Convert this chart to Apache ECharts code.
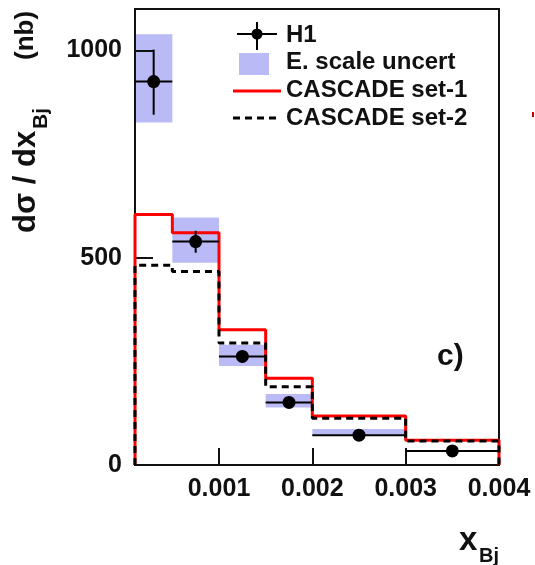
<!DOCTYPE html>
<html>
<head>
<meta charset="utf-8">
<script src="https://cdn.jsdelivr.net/npm/echarts@6/dist/echarts.min.js"></script>
<style>
    html, body { margin: 0; padding: 0; background: #fff; }
    #main_chart { width: 535px; height: 565px; }
</style>
</head>
<body>
<div id="main_chart"></div>
<script>
// bin edges in x_Bj
const binEdges = [0.0001, 0.0005, 0.001, 0.0015, 0.002, 0.003, 0.004];
// H1 data points (nb) with stat error range
const h1Values = [925, 539, 262, 151, 72, 34];
const h1ErrLow = [845, 512, 252, 143, 66, 29];
const h1ErrHigh = [1002, 565, 272, 159, 78, 39];
// energy scale uncertainty band
const scaleLow = [826, 488, 239, 139, 70, null];
const scaleHigh = [1039, 597, 290, 171, 87, null];
// CASCADE predictions
const cascade1 = [604, 560, 326, 209, 118, 60];
const cascade2 = [482, 467, 294, 189, 113, 58];
// axis ticks
const xTicks = [0.001, 0.002, 0.003, 0.004];
const yTicks = [0, 500, 1000];

const FONT = 'Liberation Sans';

let myChart = echarts.init(document.getElementById('main_chart'));

// build step line from bin contents: drop to zero at both ends
function stepPoints(values) {
    let pts = [[binEdges[0], 0]];
    values.forEach((v, i) => {
        pts.push([binEdges[i], v]);
        pts.push([binEdges[i + 1], v]);
    });
    pts.push([binEdges[binEdges.length - 1], 0]);
    return pts;
}

let h1Data = h1Values.map((v, i) => [binEdges[i], binEdges[i + 1], v, h1ErrLow[i], h1ErrHigh[i]]);
let bandData = [];
scaleLow.forEach((lo, i) => {
    if (lo !== null) bandData.push([binEdges[i], binEdges[i + 1], lo, scaleHigh[i]]);
});

let option = {
    animation: false,
    backgroundColor: '#fff',
    grid: {
        left: 135, right: 36, top: 9, bottom: 100,
        show: true, borderColor: '#111', borderWidth: 2
    },
    xAxis: {
        type: 'value',
        z: 1,
        min: binEdges[0],
        max: binEdges[binEdges.length - 1],
        splitLine: {show: false},
        axisLine: {lineStyle: {color: '#111', width: 2}},
        axisTick: {inside: true, length: 17, customValues: xTicks, lineStyle: {color: '#111', width: 2}},
        axisLabel: {
            customValues: xTicks, margin: 12, color: '#111',
            fontFamily: FONT, fontWeight: 'bold', fontSize: 25,
            formatter: v => v.toFixed(3)
        }
    },
    yAxis: {
        type: 'value',
        z: 1,
        min: 0,
        max: 1100,
        splitLine: {show: false},
        axisLine: {lineStyle: {color: '#111', width: 2}},
        axisTick: {inside: true, length: 18, customValues: yTicks, lineStyle: {color: '#111', width: 2}},
        axisLabel: {
            customValues: yTicks, margin: 13, color: '#111',
            fontFamily: FONT, fontWeight: 'bold', fontSize: 25,
            formatter: v => String(v)
        }
    },
    series: [{
        name: 'E. scale uncert',
        type: 'custom',
        z: 0,
        data: bandData,
        encode: {x: [0, 1], y: [2, 3]},
        renderItem: function (params, api) {
            let a = api.coord([api.value(0), api.value(3)]);
            let b = api.coord([api.value(1), api.value(2)]);
            return {
                type: 'rect',
                shape: {x: a[0], y: a[1], width: b[0] - a[0], height: b[1] - a[1]},
                style: {fill: '#babaf7'}
            };
        }
    }, {
        name: 'CASCADE set-1',
        type: 'line',
        z: 2,
        data: stepPoints(cascade1),
        symbol: 'none',
        lineStyle: {color: '#ff0000', width: 3}
    }, {
        name: 'CASCADE set-2',
        type: 'line',
        z: 3,
        data: stepPoints(cascade2),
        symbol: 'none',
        lineStyle: {color: '#000', width: 3, type: [7, 5]}
    }, {
        name: 'H1',
        type: 'custom',
        z: 4,
        data: h1Data,
        encode: {x: [0, 1], y: [2, 3, 4]},
        renderItem: function (params, api) {
            let xc = (api.value(0) + api.value(1)) / 2;
            let l = api.coord([api.value(0), api.value(2)]);
            let r = api.coord([api.value(1), api.value(2)]);
            let c = api.coord([xc, api.value(2)]);
            let lo = api.coord([xc, api.value(3)]);
            let hi = api.coord([xc, api.value(4)]);
            let st = {stroke: '#000', lineWidth: 2};
            return {
                type: 'group',
                children: [
                    {type: 'line', shape: {x1: l[0], y1: l[1], x2: r[0], y2: r[1]}, style: st},
                    {type: 'line', shape: {x1: lo[0], y1: lo[1], x2: hi[0], y2: hi[1]}, style: st},
                    {type: 'circle', shape: {cx: c[0], cy: c[1], r: 6.5}, style: {fill: '#000'}}
                ]
            };
        }
    }],
    graphic: [
        // legend
        {type: 'line', shape: {x1: 237, y1: 34, x2: 277, y2: 34}, style: {stroke: '#000', lineWidth: 2}},
        {type: 'line', shape: {x1: 257, y1: 22, x2: 257, y2: 50}, style: {stroke: '#000', lineWidth: 2}},
        {type: 'circle', shape: {cx: 257, cy: 34, r: 5.5}, style: {fill: '#000'}},
        {type: 'rect', shape: {x: 239, y: 53, width: 30, height: 22}, style: {fill: '#babaf7'}},
        {type: 'line', shape: {x1: 233, y1: 91, x2: 281, y2: 91}, style: {stroke: '#ff0000', lineWidth: 3}},
        {type: 'line', shape: {x1: 233, y1: 118, x2: 281, y2: 118}, style: {stroke: '#000', lineWidth: 3, lineDash: [7, 5]}},
        {type: 'text', x: 286, y: 35, style: {text: 'H1', font: 'bold 24px ' + FONT, fill: '#111', verticalAlign: 'middle'}},
        {type: 'text', x: 286, y: 62, style: {text: 'E. scale uncert', font: 'bold 24px ' + FONT, fill: '#111', verticalAlign: 'middle'}},
        {type: 'text', x: 286, y: 90, style: {text: 'CASCADE set-1', font: 'bold 24px ' + FONT, fill: '#111', verticalAlign: 'middle'}},
        {type: 'text', x: 286, y: 118, style: {text: 'CASCADE set-2', font: 'bold 24px ' + FONT, fill: '#111', verticalAlign: 'middle'}},
        // panel tag
        {type: 'text', x: 437, y: 357, style: {text: 'c)', font: 'bold 30px ' + FONT, fill: '#111', verticalAlign: 'middle'}},
        // x axis title
        {type: 'text', x: 459, y: 541, style: {text: 'x', font: 'bold 33px ' + FONT, fill: '#111', verticalAlign: 'middle'}},
        {type: 'text', x: 479, y: 556, style: {text: 'Bj', font: 'bold 20px ' + FONT, fill: '#111', verticalAlign: 'middle'}},
        // y axis title, rotated
        {
            type: 'group', x: 26, y: 0, rotation: Math.PI / 2,
            children: [
                {type: 'text', x: -233, y: 0, style: {text: 'dσ / dx', font: 'bold 31px ' + FONT, fill: '#111', verticalAlign: 'middle'}},
                {type: 'text', x: -129, y: 15, style: {text: 'Bj', font: 'bold 21px ' + FONT, fill: '#111', verticalAlign: 'middle'}},
                {type: 'text', x: -60, y: 0, style: {text: '(nb)', font: 'bold 26px ' + FONT, fill: '#111', verticalAlign: 'middle'}}
            ]
        },
        // stray red mark at the right
        {type: 'rect', shape: {x: 532, y: 112, width: 2, height: 5}, style: {fill: '#cc0000'}}
    ]
};

myChart.setOption(option);
</script>
</body>
</html>
